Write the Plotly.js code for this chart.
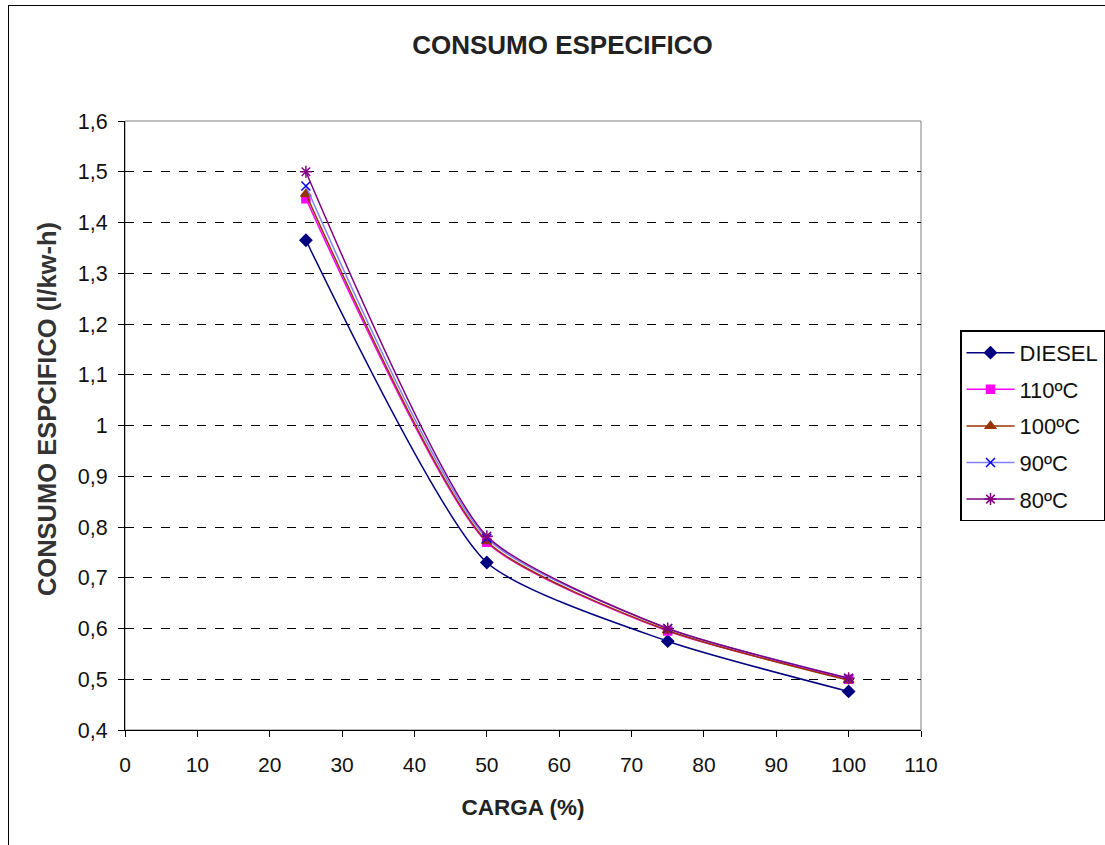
<!DOCTYPE html>
<html>
<head>
<meta charset="utf-8">
<script src="https://cdn.plot.ly/plotly-3.0.1.min.js"></script>
<style>
  html, body { margin: 0; padding: 0; background: #fff; }
  #wrap { position: relative; width: 1105px; height: 845px; overflow: hidden; }
  #frame { position: absolute; left: 8px; top: 5px; width: 1200px; height: 900px; border-left: 1.5px solid #000; border-top: 1.5px solid #000; pointer-events: none; z-index: 5; }
  #chart { position: absolute; left: 0; top: 0; width: 1105px; height: 845px; }
</style>
</head>
<body>
<div id="wrap">
  <div id="chart"></div>
  <div id="frame"></div>
</div>
<script>
const carga = [25, 50, 75, 100];
const diesel = [1.365, 0.730, 0.575, 0.476];
const t110 = [1.447, 0.770, 0.595, 0.500];
const t100 = [1.456, 0.772, 0.596, 0.498];
const t90 = [1.472, 0.778, 0.600, 0.502];
const t80 = [1.500, 0.782, 0.600, 0.502];
const seriesNames = ['DIESEL', '110ºC', '100ºC', '90ºC', '80ºC'];
const yTicks = [0.4, 0.5, 0.6, 0.7, 0.8, 0.9, 1, 1.1, 1.2, 1.3, 1.4, 1.5, 1.6];
const xTicks = [0, 10, 20, 30, 40, 50, 60, 70, 80, 90, 100, 110];
const chartTitle = 'CONSUMO ESPECIFICO';
const xTitle = 'CARGA (%)';
const yTitle = 'CONSUMO ESPCIFICO (l/kw-h)';

const styles = [
  {line: '#000080', marker: '#000080', symbol: 'diamond', size: 9},
  {line: '#FF00FF', marker: '#FF00FF', symbol: 'square', size: 8},
  {line: '#993300', marker: '#993300', symbol: 'triangle-up', size: 9},
  {line: '#8080FF', marker: '#0000FF', symbol: 'x-thin-open', size: 9},
  {line: '#800080', marker: '#800080', symbol: 'asterisk-open', size: 10}
];
const data = [diesel, t110, t100, t90, t80];

const traces = data.map((ys, i) => ({
  x: carga, y: ys, name: seriesNames[i], legendgroup: 'g' + i,
  type: 'scatter', mode: 'lines+markers',
  line: {color: styles[i].line, width: 1.5, shape: 'spline', smoothing: 0.6},
  marker: {symbol: styles[i].symbol, size: styles[i].size, color: styles[i].marker,
           line: {color: styles[i].marker, width: 1.5}}
}));

const FONT = 'Liberation Sans, Arial, sans-serif';
const layout = {
  width: 1105, height: 845,
  separators: ',.',
  paper_bgcolor: '#fff', plot_bgcolor: '#fff',
  margin: {l: 125, r: 184, t: 121, b: 115},
  font: {family: FONT, color: '#111', size: 21},
  title: {text: '<b>' + chartTitle + '</b>', x: 0.509, xref: 'container', xanchor: 'center',
          y: 0.947, yanchor: 'middle',
          font: {size: 26, family: FONT, color: '#222'}},
  shapes: [{type: 'rect', xref: 'paper', yref: 'paper', x0: 0, x1: 1, y0: 0, y1: 1,
            line: {color: '#808080', width: 1}, layer: 'below'}],
  annotations: [{
    text: '<b>' + yTitle + '</b>', textangle: -90, showarrow: false,
    xref: 'paper', yref: 'paper', x: -0.098, y: 0.527, xanchor: 'center', yanchor: 'middle',
    font: {size: 25.5, color: '#333', family: FONT}
  }],
  xaxis: {
    range: [0, 110], tickvals: xTicks, ticktext: xTicks.map(String),
    showgrid: false, zeroline: false, showline: true, linecolor: '#000', linewidth: 1,
    ticks: 'outside', ticklen: 6, tickcolor: '#000', ticklabelstandoff: 10,
    tickfont: {size: 21},
    title: {text: '<b>' + xTitle + '</b>', font: {size: 22.5, color: '#222'}, standoff: 24}
  },
  yaxis: {
    range: [0.4, 1.6], tickvals: yTicks, ticktext: yTicks.map(v => String(v).replace('.', ',')),
    showgrid: true, gridcolor: '#000', griddash: 'dash', gridwidth: 1,
    zeroline: false, showline: true, linecolor: '#000', linewidth: 1,
    ticks: 'outside', ticklen: 6, tickcolor: '#000', ticklabelstandoff: 6,
    tickfont: {size: 21.5}
  },
  legend: {
    x: 960 / 1105, xref: 'container', xanchor: 'left', y: 0.609, yref: 'container', yanchor: 'top',
    bordercolor: '#000', borderwidth: 1.5, bgcolor: '#fff',
    font: {size: 22, color: '#111'}, tracegroupgap: 5, itemwidth: 48
  },
  showlegend: true
};

Plotly.newPlot('chart', traces, layout, {displayModeBar: false, staticPlot: true});
</script>
</body>
</html>
